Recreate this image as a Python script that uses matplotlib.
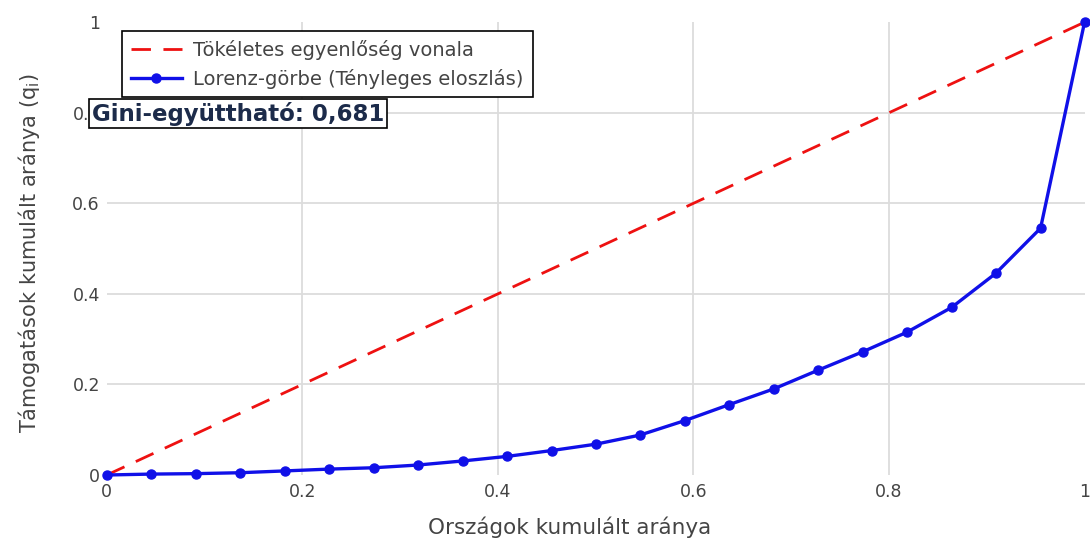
import matplotlib
matplotlib.use("Agg")
import matplotlib.pyplot as plt
from matplotlib.ticker import FuncFormatter

# cumulative share of countries (22 countries) and of subsidies
countryShare = [0.0, 0.045, 0.091, 0.136, 0.182, 0.227, 0.273, 0.318, 0.364, 0.409, 0.455, 0.5,
                0.545, 0.591, 0.636, 0.682, 0.727, 0.773, 0.818, 0.864, 0.909, 0.955, 1.0]
subsidyShare = [0.0, 0.002, 0.003, 0.005, 0.009, 0.013, 0.016, 0.022, 0.031, 0.041, 0.054, 0.068,
                0.088, 0.120, 0.155, 0.190, 0.231, 0.272, 0.315, 0.370, 0.445, 0.545, 1.0]
equalityX = [0.0, 1.0]
equalityY = [0.0, 1.0]
gini = 0.681

tickVals = [0, 0.2, 0.4, 0.6, 0.8, 1]
textColor = "#444444"

fig = plt.figure(figsize=(10.9, 5.41), dpi=100)
ax = fig.add_axes([0.098, 0.122, 0.897, 0.837])

ax.plot(equalityX, equalityY, color="#ee1111", linestyle=(0, (7, 4.5)), linewidth=2,
        label="Tökéletes egyenlőség vonala", zorder=3)
ax.plot(countryShare, subsidyShare, color="#1010e8", linewidth=2.4, marker="o", markersize=6.5,
        label="Lorenz-görbe (Tényleges eloszlás)", zorder=4, clip_on=False)

ax.set_xlim(0, 1)
ax.set_ylim(0, 1)
ax.set_xticks(tickVals)
ax.set_yticks(tickVals)
fmt = FuncFormatter(lambda v, pos: f"{v:g}")
ax.xaxis.set_major_formatter(fmt)
ax.yaxis.set_major_formatter(fmt)
ax.tick_params(axis="both", length=0, labelsize=12.5, labelcolor=textColor)
ax.tick_params(axis="x", pad=6)
ax.tick_params(axis="y", pad=5)

ax.grid(True, color="#dcdcdc", linewidth=1.3)
for lines in (ax.xaxis.get_gridlines(), ax.yaxis.get_gridlines()):
    lines[0].set_visible(False)
    lines[-1].set_visible(False)
ax.set_axisbelow(True)
for s in ax.spines.values():
    s.set_visible(False)

ax.set_xlabel("Országok kumulált aránya", fontsize=15.5, color=textColor)
ax.set_ylabel(r"Támogatások kumulált aránya (q$_{\mathregular{i}}$)", fontsize=15, color=textColor)
ax.xaxis.set_label_coords(0.473, -0.092)
ax.yaxis.set_label_coords(-0.066, 0.49)

leg = ax.legend(loc="upper left", bbox_to_anchor=(0.016, 0.98), borderaxespad=0, fontsize=14,
                frameon=True, fancybox=False, framealpha=1, edgecolor="black", handlelength=2.6,
                handletextpad=0.6, borderpad=0.45, labelspacing=0.45, labelcolor=textColor)
leg.get_frame().set_linewidth(1.2)
leg.set_zorder(10)

fig.text(0.0845, 0.79, f"Gini-együttható: {gini:.3f}".replace(".", ","), fontsize=16.5,
         fontweight="bold", color="#1c2b4a", va="center", ha="left", zorder=20,
         bbox=dict(boxstyle="square,pad=0.12", facecolor="white", edgecolor="black", linewidth=1.2))

fig.savefig("out.png", dpi=100)
